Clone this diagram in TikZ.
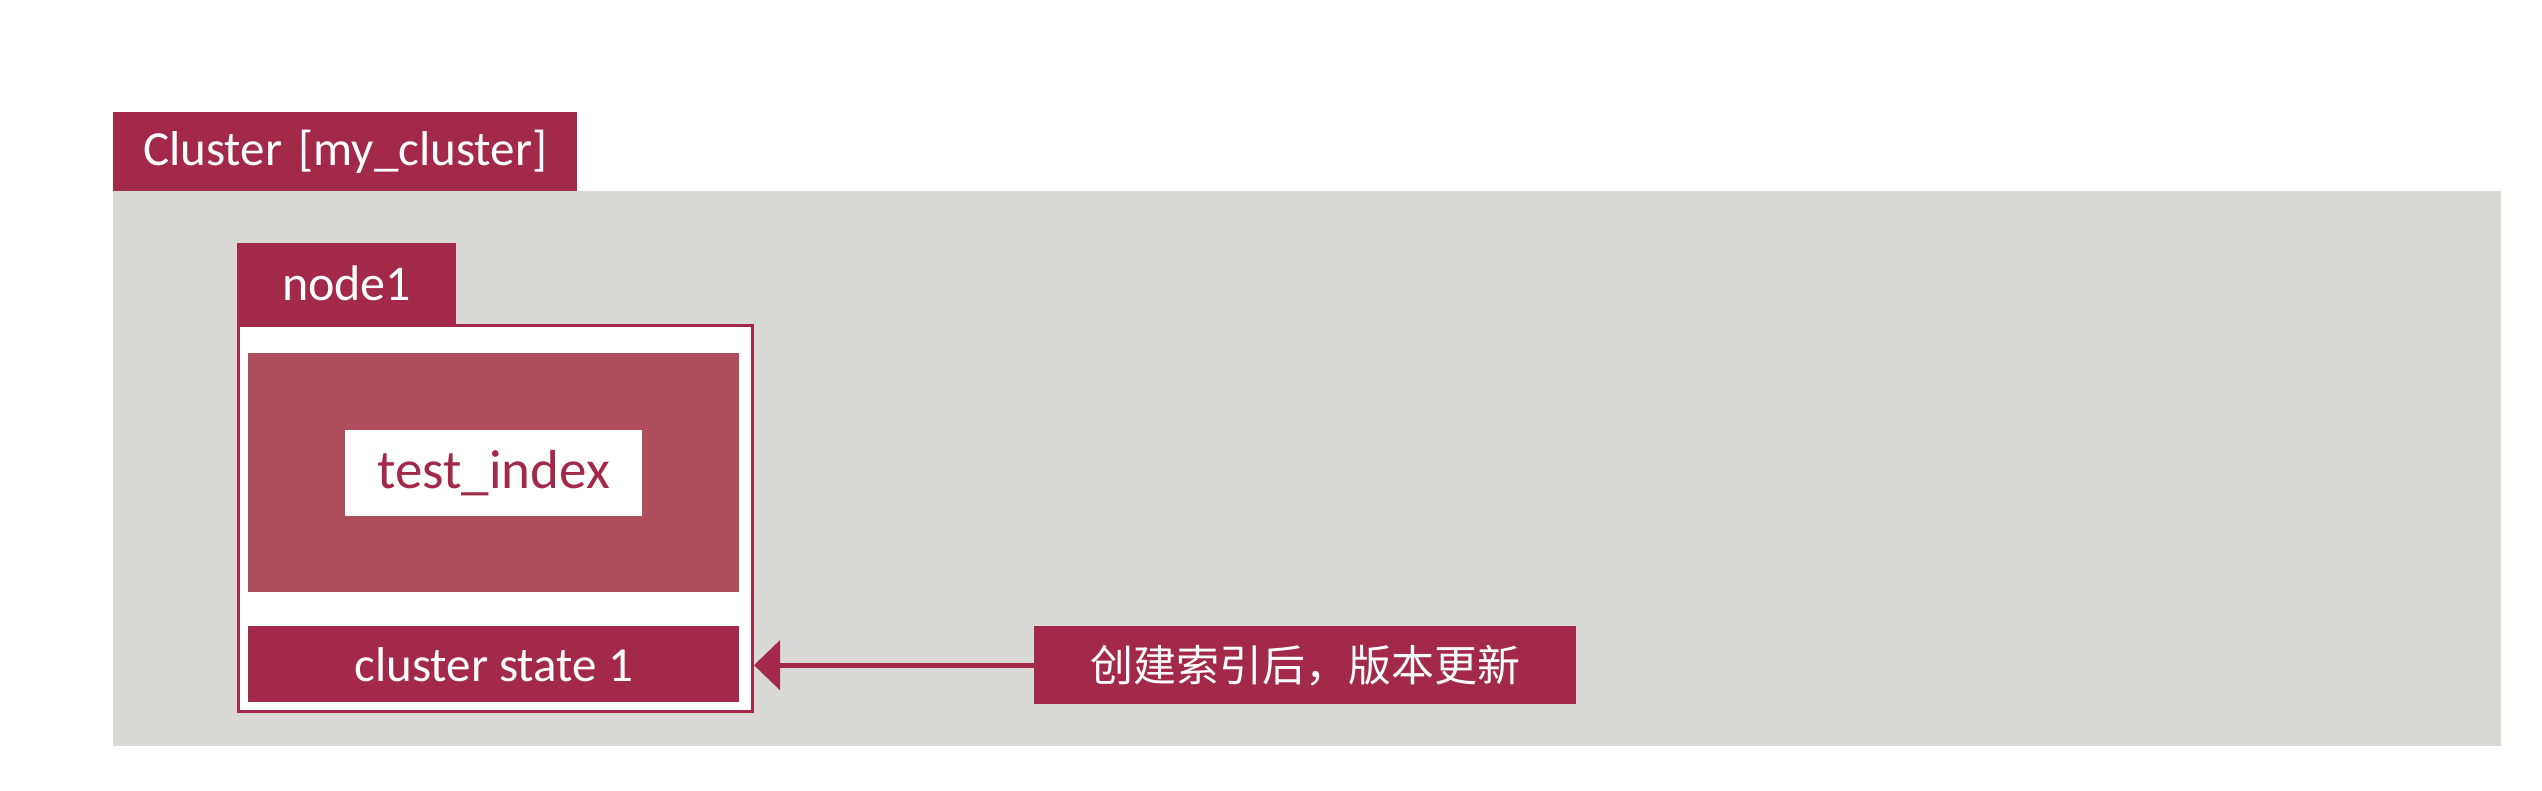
\documentclass[tikz,border=0pt]{standalone}
\usepackage{fontspec}
\setmainfont{Carlito}
\newfontfamily\cjkfont{Noto Sans CJK SC}
\usetikzlibrary{arrows.meta}

\definecolor{esred}{HTML}{A3294A}
\definecolor{eslight}{HTML}{AE4E5C}
\definecolor{esgrey}{HTML}{D9DAD8}

\begin{document}
\begin{tikzpicture}[x=1pt, y=1pt,
  box/.style={rectangle, inner sep=0pt, anchor=north west},
  redbox/.style={box, fill=esred, text=white},
  pointer/.style={draw=esred, line width=5pt, -{Triangle[length=26pt, width=49pt]}}]
  \useasboundingbox[fill=white] (0,0) rectangle (2542,790);

  \node[redbox, minimum width=464pt, minimum height=79pt, text width=404pt,
        inner xsep=30pt, align=left, font=\fontsize{49}{58}\selectfont]
        (clustertab) at (113,678) {Cluster [my\_cluster]};
  \node[box, fill=esgrey, minimum width=2388pt, minimum height=555pt] (cluster) at (113,599) {};

  \node[redbox, minimum width=219pt, minimum height=81pt, font=\fontsize{50}{60}\selectfont]
        (node1tab) at (237,547) {node1};
  \node[box, draw=esred, line width=3pt, fill=white, minimum width=514pt, minimum height=386pt]
        (node1) at (237,466) {};

  \node[box, fill=eslight, minimum width=491pt, minimum height=239pt] (indexarea) at (248,437) {};
  \node[rectangle, fill=white, text=esred, minimum width=297pt, minimum height=86pt,
        font=\fontsize{55}{66}\selectfont] (index) at (indexarea.center) {test\_index};

  \node[redbox, minimum width=491pt, minimum height=76pt, font=\fontsize{49}{58}\selectfont]
        (state) at (248,164) {cluster state 1};

  \node[redbox, minimum width=542pt, minimum height=78pt, font=\cjkfont\fontsize{43}{52}\selectfont]
        (note) at (1034,164) {创建索引后，版本更新};

  \draw[pointer] (note.west) -- (node1.east |- note.west);
\end{tikzpicture}
\end{document}
